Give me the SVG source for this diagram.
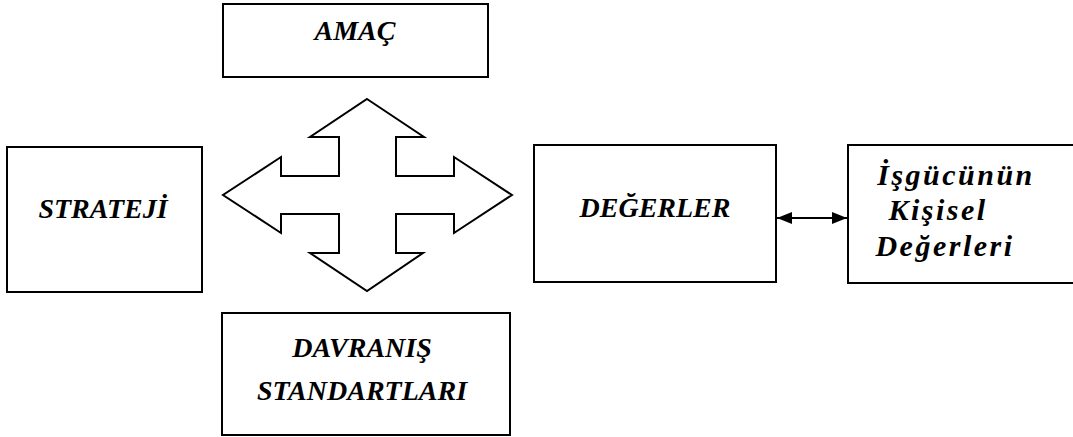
<svg xmlns="http://www.w3.org/2000/svg" width="1073" height="437" viewBox="0 0 1073 437">
<style>
.box{fill:#fff;stroke:#000;stroke-width:2}
.t{font-family:"Liberation Serif","Times New Roman",serif;font-weight:bold;font-style:italic;fill:#000;text-anchor:middle}
.s28{font-size:28px}
.s30{font-size:30px;letter-spacing:2.5px}
.cross{fill:#fff;stroke:#000;stroke-width:2;stroke-linejoin:miter}
.conn{stroke:#000;stroke-width:2;fill:none}
</style>
<defs>
<marker id="ah" viewBox="0 0 15 12" refX="15" refY="6" markerWidth="15" markerHeight="12" markerUnits="userSpaceOnUse" orient="auto-start-reverse">
<path d="M0,0 L15,6 L0,12 Z" fill="#000"/>
</marker>
</defs>
<rect width="1073" height="437" fill="#fff"/>
<g id="amac">
<rect class="box" x="223" y="4" width="265" height="73"/>
<text class="t s28" x="355" y="40">AMAÇ</text>
</g>
<g id="strateji">
<rect class="box" x="7" y="147" width="195" height="145"/>
<text class="t s28" x="103" y="218">STRATEJİ</text>
</g>
<g id="degerler">
<rect class="box" x="534" y="145" width="242" height="137"/>
<text class="t s28" x="655" y="217">DEĞERLER</text>
</g>
<g id="isgucu">
<rect class="box" x="848" y="145" width="240" height="138"/>
<text class="t s30" x="956" y="185">İşgücünün</text>
<text class="t s30" x="938" y="220">Kişisel</text>
<text class="t s30" x="945" y="256">Değerleri</text>
</g>
<g id="davranis">
<rect class="box" x="222" y="313" width="288" height="122"/>
<text class="t s28" x="362" y="357">DAVRANIŞ</text>
<text class="t s28" x="362" y="400">STANDARTLARI</text>
</g>
<g id="cross-arrow">
<path class="cross" d="M367,99 L424,137 L396,137 L396,176 L454,176 L454,157 L512,195 L454,233 L454,214 L396,214 L396,253 L423,253 L367,291 L310,253 L339,253 L339,214 L281,214 L281,233 L223,195 L281,157 L281,176 L339,176 L339,137 L310,137 Z"/>
</g>
<g id="connectors">
<line class="conn" x1="777" y1="218" x2="847" y2="218" marker-start="url(#ah)" marker-end="url(#ah)"/>
</g>
</svg>
